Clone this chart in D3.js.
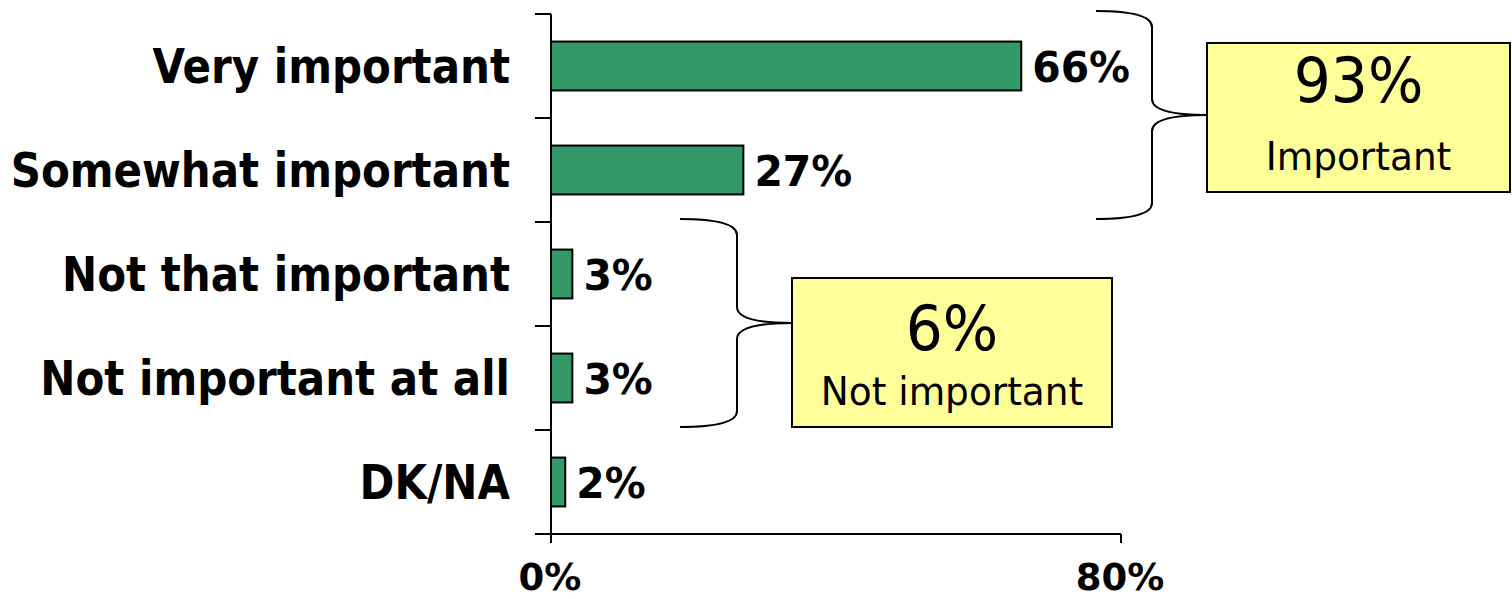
<!DOCTYPE html>
<html>
<head>
<meta charset="utf-8">
<script src="https://cdn.jsdelivr.net/npm/d3@7"></script>
<style>
  html, body { margin: 0; padding: 0; background: #fff; }
  svg { display: block; }
  text { font-family: "DejaVu Sans", Verdana, sans-serif; fill: #000; }
</style>
</head>
<body>
<svg id="chart" width="1512" height="599"></svg>
<script>
// Survey responses, in percent
const categories = ["Very important", "Somewhat important", "Not that important", "Not important at all", "DK/NA"];
const values = [66, 27, 3, 3, 2];
const xTicks = [0, 80];

// Summary brackets: which categories each one groups
const groupLabels = ["Important", "Not important"];
const groupMembers = [[0, 1], [2, 3]];

const svg = d3.select("#chart");

const x = d3.scaleLinear().domain([0, 80]).range([551, 1121]);
const y = d3.scaleBand().domain(categories).range([14, 534]).paddingInner(0).paddingOuter(0);
const barH = y.bandwidth() * 0.47;

// Narrow the wide DejaVu glyphs a little, keeping their height
function squeeze(sel, k) {
  sel.each(function () {
    const len = this.getComputedTextLength();
    d3.select(this).attr("textLength", len * k).attr("lengthAdjust", "spacingAndGlyphs");
  });
}

// Bars
svg.append("g").selectAll("rect")
  .data(values)
  .join("rect")
  .attr("x", x(0))
  .attr("y", (d, i) => y(categories[i]) + (y.bandwidth() - barH) / 2)
  .attr("width", d => x(d) - x(0))
  .attr("height", barH)
  .attr("fill", "#339966")
  .attr("stroke", "#000")
  .attr("stroke-width", 2);

// Category axis: boundary ticks on the left
const yAxis = svg.append("g");
yAxis.append("line")
  .attr("x1", x(0)).attr("x2", x(0))
  .attr("y1", y.range()[0]).attr("y2", y.range()[1] + 9)
  .attr("stroke", "#000").attr("stroke-width", 2);
const bounds = categories.map(c => y(c)).concat([y.range()[1]]);
yAxis.selectAll("line.tick")
  .data(bounds)
  .join("line")
  .attr("class", "tick")
  .attr("x1", x(0) - 16).attr("x2", x(0))
  .attr("y1", d => d).attr("y2", d => d)
  .attr("stroke", "#000").attr("stroke-width", 2);

// Value axis along the bottom
const xAxis = svg.append("g");
xAxis.append("line")
  .attr("x1", x(0)).attr("x2", x(80))
  .attr("y1", y.range()[1]).attr("y2", y.range()[1])
  .attr("stroke", "#000").attr("stroke-width", 2);
xAxis.selectAll("line.xt")
  .data(xTicks)
  .join("line")
  .attr("class", "xt")
  .attr("x1", d => x(d)).attr("x2", d => x(d))
  .attr("y1", y.range()[1]).attr("y2", y.range()[1] + 9)
  .attr("stroke", "#000").attr("stroke-width", 2);
xAxis.selectAll("text")
  .data(xTicks)
  .join("text")
  .attr("x", d => x(d) - 1)
  .attr("y", 590)
  .attr("text-anchor", "middle")
  .attr("font-weight", "bold")
  .attr("font-size", 37)
  .text(d => d + "%");

// Category labels
svg.append("g").selectAll("text")
  .data(categories)
  .join("text")
  .attr("x", 510)
  .attr("y", d => y(d) + y.bandwidth() / 2 + 17)
  .attr("text-anchor", "end")
  .attr("font-weight", "bold")
  .attr("font-size", 48)
  .text(d => d)
  .call(squeeze, 0.875);

// Value labels at bar ends
svg.append("g").selectAll("text")
  .data(values)
  .join("text")
  .attr("x", d => x(d) + 11)
  .attr("y", (d, i) => y(categories[i]) + y.bandwidth() / 2 + 16)
  .attr("font-weight", "bold")
  .attr("font-size", 43)
  .text(d => d + "%")
  .call(squeeze, 0.95);

// Curly brackets with summary boxes
const braceLayout = [
  { tipX: 1096, spineX: 1152, box: [1207, 43, 1510, 192], valueY: 59 },
  { tipX: 680, spineX: 737, box: [792, 278, 1112, 427], valueY: 72 }
];

groupMembers.forEach((members, gi) => {
  const L = braceLayout[gi];
  const top = y(categories[members[0]]) - 3;
  const bot = y(categories[members[members.length - 1]]) + y.bandwidth() - 3;
  const mid = (top + bot) / 2;
  const r = 16;
  const tip = L.tipX, sx = L.spineX, px = L.box[0];
  const p = d3.path();
  p.moveTo(tip, top);
  p.quadraticCurveTo(sx, top, sx, top + r);
  p.lineTo(sx, mid - r);
  p.quadraticCurveTo(sx, mid, px, mid);
  p.moveTo(px, mid);
  p.quadraticCurveTo(sx, mid, sx, mid + r);
  p.lineTo(sx, bot - r);
  p.quadraticCurveTo(sx, bot, tip, bot);
  svg.append("path")
    .attr("d", p.toString())
    .attr("fill", "none")
    .attr("stroke", "#000")
    .attr("stroke-width", 2);

  const total = d3.sum(members, m => values[m]);
  const [bx0, by0, bx1, by1] = L.box;
  const cx = (bx0 + bx1) / 2;
  svg.append("rect")
    .attr("x", bx0).attr("y", by0)
    .attr("width", bx1 - bx0).attr("height", by1 - by0)
    .attr("fill", "#ffff99")
    .attr("stroke", "#000")
    .attr("stroke-width", 2);
  svg.append("text")
    .attr("x", cx).attr("y", by0 + L.valueY)
    .attr("text-anchor", "middle")
    .attr("font-size", 62)
    .text(total + "%")
    .call(squeeze, 0.94);
  svg.append("text")
    .attr("x", cx).attr("y", by0 + 127)
    .attr("text-anchor", "middle")
    .attr("font-size", 39)
    .text(groupLabels[gi])
    .call(squeeze, 0.96);
});
</script>
</body>
</html>
